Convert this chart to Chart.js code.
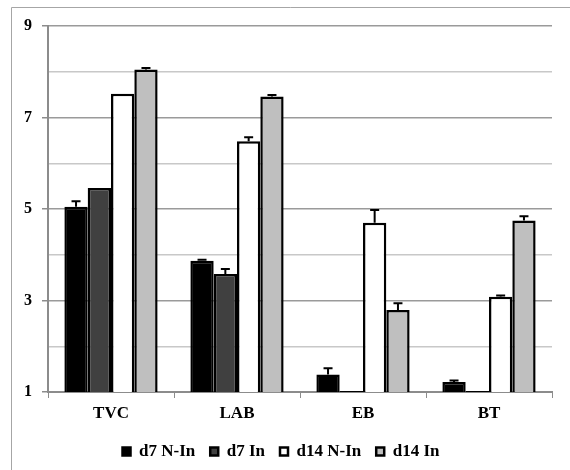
<!DOCTYPE html>
<html>
<head>
<meta charset="utf-8">
<script src="https://cdn.jsdelivr.net/npm/chart.js@4.4.1/dist/chart.umd.min.js"></script>
<style>
  html, body { margin: 0; padding: 0; background: #ffffff; }
</style>
</head>
<body>
<canvas id="myChart" width="570" height="470"></canvas>

<script>
    // categories and series (log counts)
    var categories = ['TVC', 'LAB', 'EB', 'BT'];
    var seriesNames = ['d7 N-In', 'd7 In', 'd14 N-In', 'd14 In'];

    var d7NIn = [5.05, 3.87, 1.38, 1.22];
    var d7In = [5.46, 3.58, 1.02, 1.02];
    var d14NIn = [7.52, 6.48, 4.70, 3.08];
    var d14In = [8.05, 7.46, 2.79, 4.75];

    // upper error bars
    var d7NInErr = [0.12, 0.02, 0.14, 0.03];
    var d7InErr = [0, 0.11, 0, 0];
    var d14NInErr = [0, 0.09, 0.28, 0.03];
    var d14InErr = [0.03, 0.03, 0.15, 0.09];

    var yTicks = [1, 3, 5, 7, 9];

    var ctx = document.getElementById('myChart').getContext('2d');
    var serif = '"Liberation Serif", "Times New Roman", serif';

    function makeSet(label, values, errors, fill) {
        return {
            label: label,
            data: values,
            errors: errors,
            backgroundColor: fill,
            borderColor: '#000000',
            borderWidth: 2.5,
            categoryPercentage: 0.74,
            barPercentage: 1.0
        };
    }

    var data = {
        labels: categories,
        datasets: [
            makeSet(seriesNames[0], d7NIn, d7NInErr, '#000000'),
            makeSet(seriesNames[1], d7In, d7InErr, '#404040'),
            makeSet(seriesNames[2], d14NIn, d14NInErr, '#ffffff'),
            makeSet(seriesNames[3], d14In, d14InErr, '#bfbfbf')
        ]
    };

    // cadre gris autour de la figure
    var framePlugin = {
        id: 'frame',
        beforeDraw: function(chart) {
            var c = chart.ctx;
            c.save();
            c.strokeStyle = '#a6a6a6';
            c.lineWidth = 1;
            c.beginPath();
            c.moveTo(11.5, 470);
            c.lineTo(11.5, 7.5);
            c.lineTo(570, 7.5);
            c.stroke();
            c.restore();
        }
    };

    // barres d'erreur (seulement vers le haut)
    var errorBarPlugin = {
        id: 'errorBars',
        afterDatasetsDraw: function(chart) {
            var c = chart.ctx;
            var yScale = chart.scales.y;
            c.save();
            c.strokeStyle = '#000000';
            c.lineWidth = 2;
            chart.data.datasets.forEach(function(ds, i) {
                var meta = chart.getDatasetMeta(i);
                meta.data.forEach(function(bar, j) {
                    var err = ds.errors[j];
                    if (!err) return;
                    var yTop = yScale.getPixelForValue(ds.data[j] + err);
                    c.beginPath();
                    c.moveTo(bar.x, bar.y);
                    c.lineTo(bar.x, yTop);
                    c.moveTo(bar.x - 4.5, yTop);
                    c.lineTo(bar.x + 4.5, yTop);
                    c.stroke();
                });
            });
            c.restore();
        }
    };

    var options = {
        responsive: false,
        animation: false,
        layout: {
            padding: { left: 10, right: 18, top: 26, bottom: 0 }
        },
        plugins: {
            legend: {
                position: 'bottom',
                labels: {
                    boxWidth: 8,
                    boxHeight: 8,
                    padding: 15,
                    color: '#000000',
                    font: { family: serif, size: 17, weight: 'bold' }
                }
            },
            tooltip: { enabled: false }
        },
        scales: {
            x: {
                afterFit: function(scale) { scale.height = 36; },
                grid: {
                    drawOnChartArea: false,
                    color: '#8c8c8c',
                    tickLength: 6
                },
                border: { color: '#8c8c8c', width: 2 },
                ticks: {
                    padding: 5,
                    color: '#000000',
                    font: { family: serif, size: 17, weight: 'bold' }
                }
            },
            y: {
                min: 1,
                max: 9,
                afterFit: function(scale) { scale.width = 38; },
                grid: {
                    color: function(c) {
                        return (c.tick && yTicks.indexOf(c.tick.value) >= 0) ? '#9a9a9a' : '#c8c8c8';
                    },
                    tickColor: function(c) {
                        return (c.tick && yTicks.indexOf(c.tick.value) >= 0) ? '#8c8c8c' : 'rgba(0,0,0,0)';
                    },
                    tickLength: 6,
                    lineWidth: 1.5
                },
                border: { color: '#8c8c8c', width: 2 },
                ticks: {
                    stepSize: 1,
                    autoSkip: false,
                    padding: 10,
                    color: '#000000',
                    font: { family: serif, size: 16, weight: 'bold' },
                    callback: function(v) {
                        return yTicks.indexOf(v) >= 0 ? v : '';
                    }
                }
            }
        }
    };

    var myChart = new Chart(ctx, {
        type: 'bar',
        data: data,
        options: options,
        plugins: [framePlugin, errorBarPlugin]
    });
</script>
</body>
</html>
